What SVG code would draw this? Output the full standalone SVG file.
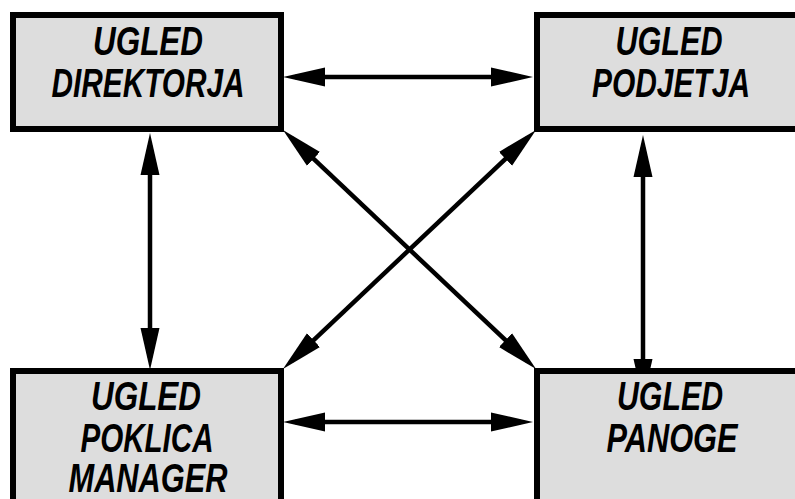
<svg xmlns="http://www.w3.org/2000/svg" width="795" height="499" viewBox="0 0 795 499">
<defs>
<style>
.box{fill:#dddddd;stroke:#000;stroke-width:6}
.lbl{font-family:"Liberation Sans",Arial,sans-serif;font-weight:bold;font-style:italic;font-size:40px;fill:#000;text-anchor:middle}
.con{stroke:#000;stroke-width:4.5;fill:none;marker-start:url(#ah);marker-end:url(#ah)}
</style>
<marker id="ah" markerUnits="userSpaceOnUse" markerWidth="42" markerHeight="20" viewBox="0 0 42 20" refX="30" refY="10" orient="auto-start-reverse">
<path d="M0,0.5 L42,10 L0,19.5 Z" fill="#000"/>
</marker>
</defs>
<rect width="795" height="499" fill="#fff"/>
<g id="connectors">
<line class="con" x1="295" y1="77" x2="521" y2="77"/>
<line class="con" x1="295" y1="422" x2="521" y2="422"/>
<line class="con" x1="150" y1="145" x2="150" y2="358"/>
<line class="con" x1="643" y1="147" x2="643" y2="389"/>
<line class="con" x1="291.7" y1="138.2" x2="527.3" y2="360.8"/>
<line class="con" x1="527.3" y1="138.2" x2="291.7" y2="360.8"/>
</g>
<g id="direktor">
<rect class="box" x="13" y="15" width="268" height="114"/>
<text class="lbl" x="148" y="55" textLength="110" lengthAdjust="spacingAndGlyphs">UGLED</text>
<text class="lbl" x="148" y="97" textLength="193" lengthAdjust="spacingAndGlyphs">DIREKTORJA</text>
</g>
<g id="podjetje">
<rect class="box" x="537" y="15" width="300" height="114"/>
<text class="lbl" x="669" y="55" textLength="107" lengthAdjust="spacingAndGlyphs">UGLED</text>
<text class="lbl" x="671" y="97" textLength="158" lengthAdjust="spacingAndGlyphs">PODJETJA</text>
</g>
<g id="poklic">
<rect class="box" x="13" y="371" width="268" height="200"/>
<text class="lbl" x="146" y="410" textLength="110" lengthAdjust="spacingAndGlyphs">UGLED</text>
<text class="lbl" x="147" y="452" textLength="133" lengthAdjust="spacingAndGlyphs">POKLICA</text>
<text class="lbl" x="148" y="492" textLength="159" lengthAdjust="spacingAndGlyphs">MANAGER</text>
</g>
<g id="panoga">
<rect class="box" x="537" y="371" width="300" height="200"/>
<text class="lbl" x="670" y="410" textLength="106" lengthAdjust="spacingAndGlyphs">UGLED</text>
<text class="lbl" x="672" y="452" textLength="131" lengthAdjust="spacingAndGlyphs">PANOGE</text>
</g>
</svg>
